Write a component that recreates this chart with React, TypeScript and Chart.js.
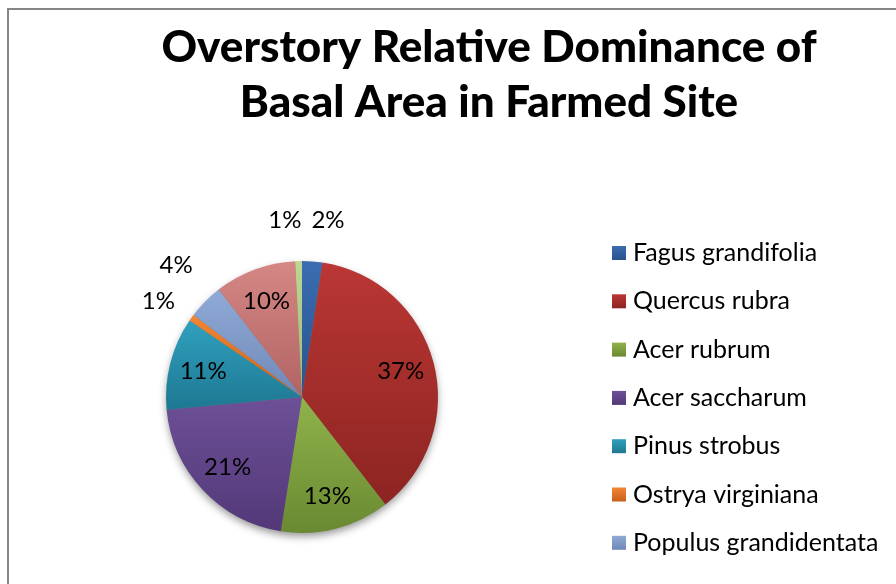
import React, { useEffect, useRef } from "react";
import { Chart, registerables } from "chart.js";

Chart.register(...registerables);

const TITLE_LINES = ["Overstory Relative Dominance of", "Basal Area in Farmed Site"];
const SPECIES = [
  "Fagus grandifolia",
  "Quercus rubra",
  "Acer rubrum",
  "Acer saccharum",
  "Pinus strobus",
  "Ostrya virginiana",
  "Populus grandidentata",
  "Prunus serotina",
  "Tilia americana",
];
const DOMINANCE = [2.4, 37.1, 13, 21, 11, 0.8, 4.2, 9.7, 0.8];
const COLOR_TOP = ["#3A6DB0", "#BA3734", "#90B34B", "#6D5097", "#30A0BE", "#F28633", "#90AAD7", "#D48784", "#C0D792"];
const COLOR_BOTTOM = ["#28538F", "#8C2421", "#6A8932", "#523878", "#1E7892", "#C8601A", "#6F88B7", "#B16463", "#9EB771"];
const OUTSIDE_LIMIT = 5; // slices under this percent get an outside label

const W = 896;
const H = 584;
const FONT = "Lato, 'Open Sans', sans-serif";

function pieGeom(chart: Chart) {
  const a = chart.chartArea;
  const cx = (a.left + a.right) / 2;
  const cy = (a.top + a.bottom) / 2;
  const r = Math.min(a.right - a.left, a.bottom - a.top) / 2;
  return { cx, cy, r };
}

function sliceAngles(i: number) {
  const total = DOMINANCE.reduce((s, v) => s + v, 0);
  let before = 0;
  for (let k = 0; k < i; k++) before += DOMINANCE[k];
  const start = -Math.PI / 2 + (before / total) * Math.PI * 2;
  const end = start + (DOMINANCE[i] / total) * Math.PI * 2;
  return { start, end, pct: (DOMINANCE[i] / total) * 100 };
}

const decorPlugin = {
  id: "decor",
  beforeDatasetsDraw(chart: Chart) {
    const ctx = chart.ctx;
    const { cx, cy, r } = pieGeom(chart);
    ctx.save();
    ctx.shadowColor = "rgba(0,0,0,0.45)";
    ctx.shadowBlur = 9;
    ctx.shadowOffsetY = 4;
    ctx.fillStyle = "#777";
    ctx.beginPath();
    ctx.arc(cx, cy, r - 1, 0, Math.PI * 2);
    ctx.fill();
    ctx.restore();
  },
  afterDraw(chart: Chart) {
    const ctx = chart.ctx;
    const { cx, cy, r } = pieGeom(chart);
    ctx.save();
    // frame
    ctx.strokeStyle = "#868686";
    ctx.lineWidth = 2;
    ctx.beginPath();
    ctx.moveTo(8, H + 5);
    ctx.lineTo(8, 9);
    ctx.lineTo(W + 5, 9);
    ctx.stroke();

    // title
    ctx.fillStyle = "#000";
    ctx.textAlign = "center";
    ctx.textBaseline = "middle";
    ctx.font = `900 44px ${FONT}`;
    TITLE_LINES.forEach((t, k) => ctx.fillText(t, 489, 48 + k * 55));

    // legend
    ctx.textAlign = "left";
    ctx.font = `25px ${FONT}`;
    SPECIES.forEach((name, i) => {
      const y = 253 + i * 48.3;
      if (y + 14 > H) return;
      const g = ctx.createLinearGradient(0, y - 7, 0, y + 7);
      g.addColorStop(0, COLOR_TOP[i]);
      g.addColorStop(1, COLOR_BOTTOM[i]);
      ctx.fillStyle = g;
      ctx.fillRect(612, y - 7, 14, 14);
      ctx.fillStyle = "#000";
      ctx.fillText(name, 633, y);
    });

    // data labels
    ctx.font = `24px ${FONT}`;
    ctx.textAlign = "center";
    const outside: { x: number; y: number; w: number; h: number; t: string }[] = [];
    DOMINANCE.forEach((_, i) => {
      const { start, end, pct } = sliceAngles(i);
      const mid = (start + end) / 2;
      const t = Math.round(pct) + "%";
      if (pct < OUTSIDE_LIMIT) {
        const d = r * 1.3;
        outside.push({ x: cx + Math.cos(mid) * d, y: cy + Math.sin(mid) * d, w: ctx.measureText(t).width + 10, h: 36, t });
      } else {
        const d = r * 0.75;
        ctx.fillText(t, cx + Math.cos(mid) * d, cy + Math.sin(mid) * d);
      }
    });
    for (let it = 0; it < 50; it++) {
      for (let a = 0; a < outside.length; a++) {
        for (let b = a + 1; b < outside.length; b++) {
          const A = outside[a], B = outside[b];
          const ox = (A.w + B.w) / 2 - Math.abs(A.x - B.x);
          const oy = (A.h + B.h) / 2 - Math.abs(A.y - B.y);
          if (ox > 0 && oy > 0) {
            if (ox < oy) {
              const s = A.x < B.x ? -1 : 1;
              A.x += (s * ox) / 2;
              B.x -= (s * ox) / 2;
            } else {
              const s = A.y < B.y ? -1 : 1;
              A.y += (s * oy) / 2;
              B.y -= (s * oy) / 2;
            }
          }
        }
      }
    }
    outside.forEach((o) => ctx.fillText(o.t, o.x, o.y));
    ctx.restore();
  },
};

function sliceColor(c: any) {
  const i = c.dataIndex;
  const chart: Chart = c.chart;
  if (i === undefined || !chart.chartArea) return COLOR_TOP[i ?? 0];
  const { cx, cy, r } = pieGeom(chart);
  const { start, end } = sliceAngles(i);
  let ymin = cy, ymax = cy;
  for (let k = 0; k <= 40; k++) {
    const ang = start + ((end - start) * k) / 40;
    const y = cy + Math.sin(ang) * r;
    ymin = Math.min(ymin, y);
    ymax = Math.max(ymax, y);
  }
  if (ymax - ymin < 1) ymax = ymin + 1;
  const g = chart.ctx.createLinearGradient(0, ymin, 0, ymax);
  g.addColorStop(0, COLOR_TOP[i]);
  g.addColorStop(1, COLOR_BOTTOM[i]);
  return g;
}

export default function App() {
  const ref = useRef<HTMLCanvasElement | null>(null);
  useEffect(() => {
    if (!ref.current) return;
    const chart = new Chart(ref.current, {
      type: "pie",
      data: {
        labels: SPECIES,
        datasets: [
          {
            data: DOMINANCE,
            backgroundColor: sliceColor as any,
            borderWidth: 0,
          },
        ],
      },
      options: {
        responsive: false,
        animation: false,
        devicePixelRatio: 1,
        layout: { padding: { left: 166, top: 261, right: W - 438, bottom: H - 533 } },
        plugins: {
          legend: { display: false },
          title: { display: false },
          tooltip: { enabled: false },
        },
      },
      plugins: [decorPlugin],
    });
    return () => chart.destroy();
  }, []);
  return (
    <div style={{ position: "absolute", left: 0, top: 0, width: W, height: H, overflow: "hidden", background: "#fff" }}>
      <canvas ref={ref} width={W} height={H} style={{ display: "block", width: W, height: H }} />
    </div>
  );
}
